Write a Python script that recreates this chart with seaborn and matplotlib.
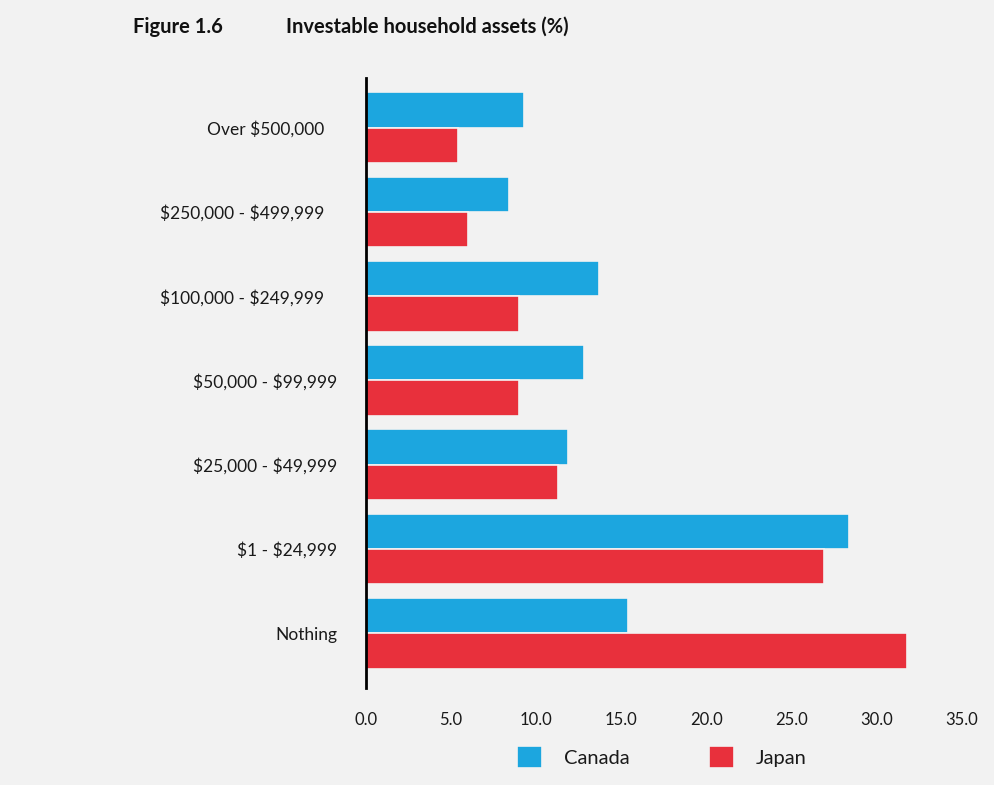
import matplotlib
matplotlib.use("Agg")
import matplotlib.pyplot as plt
import seaborn as sns
import pandas as pd

# Investable household assets by bracket, share of households (%)
categories = ["Over $500,000   ", "$250,000 - $499,999   ", "$100,000 - $249,999   ",
              "$50,000 - $99,999", "$25,000 - $49,999", "$1 - $24,999", "Nothing"]
canada = [9.3, 8.4, 13.7, 12.8, 11.9, 28.4, 15.4]
japan = [5.4, 6.0, 9.0, 9.0, 11.3, 26.9, 31.8]
countries = ["Canada", "Japan"]
colors = ["#1ca6df", "#e8303c"]
xticks = [0, 5, 10, 15, 20, 25, 30, 35]

df = pd.DataFrame({
    "bracket": categories * 2,
    "value": canada + japan,
    "country": [countries[0]] * len(categories) + [countries[1]] * len(categories),
})

sns.set_theme(style="white")
plt.rcParams["font.family"] = ["Lato", "DejaVu Sans"]
plt.rcParams["text.parse_math"] = False
bg = "#f2f2f2"

fig = plt.figure(figsize=(9.94, 7.85), dpi=100, facecolor=bg)
ax = fig.add_axes([0.3682, 0.1236, 0.5991, 0.777])
ax.set_facecolor(bg)

sns.barplot(data=df, y="bracket", x="value", hue="country", order=categories,
            hue_order=countries, palette=colors, orient="h", width=0.84,
            edgecolor=bg, linewidth=1.2, saturation=1, ax=ax)

ax.set_xlim(0, 35)
ax.set_ylim(6.65, -0.59)
ax.set_xticks(xticks)
ax.set_xticklabels([f"{t:.1f}" for t in xticks], fontsize=12, color="#1a1a1a")
ax.tick_params(axis="x", length=0, pad=17)
ax.tick_params(axis="y", length=0, pad=20.5, labelsize=12.5, labelcolor="#1a1a1a")
ax.set_xlabel("")
ax.set_ylabel("")
for side in ["top", "right", "bottom"]:
    ax.spines[side].set_visible(False)
ax.spines["left"].set_color("black")
ax.spines["left"].set_linewidth(2)

handles, labels = ax.get_legend_handles_labels()
ax.legend(handles, labels, loc="center", bbox_to_anchor=(662 / 994, 1 - 757 / 785),
          bbox_transform=fig.transFigure, ncol=2, frameon=False, fontsize=14.5,
          handlelength=1.25, handleheight=1.25, handletextpad=1.1,
          columnspacing=3.9, labelcolor="#1a1a1a")

fig.text(133 / 994, 1 - 27 / 785, "Figure 1.6", fontsize=14.5, fontweight="bold",
         va="center", ha="left", color="#111111")
fig.text(286 / 994, 1 - 27 / 785, "Investable household assets (%)", fontsize=14.5,
         fontweight="bold", va="center", ha="left", color="#111111")

fig.savefig("out.png", dpi=100, facecolor=bg)
